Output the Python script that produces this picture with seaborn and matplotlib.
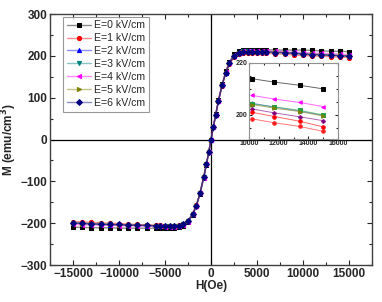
import matplotlib
matplotlib.use('Agg')
import matplotlib.pyplot as plt
import numpy as np
import pandas as pd
import seaborn as sns
from matplotlib.ticker import MultipleLocator

# campo aplicado (Oe), ramo principal
H = [-15000, -14000, -13000, -12000, -11000, -10000, -9000, -8000, -7000, -6000,
     -5500, -5000, -4500, -4000, -3500, -3000, -2500, -2000, -1600, -1200,
     -800, -500, -250, 0, 250, 500, 800, 1200, 1600, 2000,
     2500, 3000, 3500, 4000, 4500, 5000, 5500, 6000, 7000, 8000,
     9000, 10000, 11000, 12000, 13000, 14000, 15000]

M_E0 = [-210, -210, -211, -211, -211, -212, -212, -212, -212, -212,
        -212, -212, -212, -211, -210, -206, -198, -180, -160, -130,
        -92, -60, -31, 0, 31, 60, 94, 132, 163, 186,
        204, 212, 215, 215, 215, 215, 215, 215, 214, 214,
        214, 214, 213, 212, 211, 211, 210]
M_E1 = [-196, -197, -198, -199, -200, -201, -202, -203, -204, -205,
        -205, -206, -206, -206, -205, -202, -194, -177, -157, -127,
        -90, -58, -30, 0, 30, 58, 91, 129, 158, 180,
        197, 205, 207, 207, 207, 207, 206, 206, 205, 204,
        202, 201, 200, 199, 198, 197, 196]
M_E2 = [-200, -201, -202, -203, -204, -204, -205, -205, -206, -206,
        -206, -207, -207, -207, -206, -203, -195, -178, -158, -128,
        -90, -58, -30, 0, 30, 58, 92, 130, 160, 182,
        200, 208, 211, 211, 211, 210, 210, 210, 209, 208,
        206, 205, 204, 203, 202, 201, 200]
M_E3 = [-200, -201, -202, -203, -203, -204, -205, -205, -206, -206,
        -206, -207, -207, -207, -206, -203, -195, -178, -158, -128,
        -90, -58, -30, 0, 30, 58, 92, 130, 160, 182,
        200, 208, 211, 211, 211, 210, 210, 210, 209, 208,
        207, 205, 204, 203, 202, 201, 200]
M_E4 = [-203, -204, -204, -205, -205, -206, -206, -207, -207, -207,
        -207, -208, -208, -208, -207, -204, -196, -179, -159, -129,
        -91, -59, -30, 0, 30, 59, 93, 131, 161, 183,
        202, 210, 212, 212, 212, 212, 211, 211, 211, 210,
        209, 208, 207, 206, 205, 204, 203]
M_E5 = [-200, -201, -202, -202, -203, -204, -204, -205, -205, -206,
        -206, -206, -207, -207, -206, -203, -195, -178, -158, -128,
        -90, -58, -30, 0, 30, 58, 92, 130, 160, 182,
        200, 208, 210, 210, 210, 210, 210, 209, 209, 208,
        206, 205, 204, 203, 202, 201, 200]
M_E6 = [-199, -200, -201, -202, -203, -203, -204, -205, -205, -206,
        -206, -206, -207, -207, -206, -203, -195, -178, -158, -128,
        -90, -58, -30, 0, 30, 58, 92, 130, 160, 182,
        200, 207, 210, 210, 210, 210, 209, 209, 208, 207,
        206, 204, 203, 202, 201, 200, 199]

ROTULOS = ['E=0 kV/cm', 'E=1 kV/cm', 'E=2 kV/cm', 'E=3 kV/cm',
           'E=4 kV/cm', 'E=5 kV/cm', 'E=6 kV/cm']
SERIES = [M_E0, M_E1, M_E2, M_E3, M_E4, M_E5, M_E6]
CORES = ['#000000', '#ff0000', '#0000ff', '#008080', '#ff00ff', '#808000', '#000080']
MARCADORES = ['s', 'o', '^', 'v', '<', '>', 'D']

# detalhe (inset)
H_ZOOM = [10200, 11700, 13400, 15000]
Z_PRETO = [213.9, 212.6, 211.4, 210.0]
Z_MAGENTA = [207.5, 206.1, 204.8, 203.2]
Z_AZUL = [204.5, 203.0, 201.5, 199.8]
Z_VERDE = [204.3, 203.1, 201.8, 200.0]
Z_OLIVA = [204.0, 202.6, 201.3, 199.6]
Z_ROXO = [202.3, 200.8, 199.3, 197.8]
Z_VERMELHO = [201.0, 199.4, 197.6, 195.4]
Z_VERMELHO2 = [198.5, 197.0, 195.6, 193.7]
ZOOM_SERIES = [Z_PRETO, Z_MAGENTA, Z_AZUL, Z_VERDE, Z_OLIVA, Z_ROXO, Z_VERMELHO, Z_VERMELHO2]
ZOOM_CORES = ['#000000', '#ff00ff', '#3060ff', '#20a040', '#808000', '#800080', '#ff0000', '#ff2020']
ZOOM_MARCADORES = ['s', '<', '^', 's', '>', 'P', 'o', 'o']


def ajustar_ticks(ax, tamanho, comprimento):
    ax.tick_params(which='both', direction='in', top=True, right=True,
                   labelsize=tamanho, width=0.8, pad=2)
    ax.tick_params(which='major', length=comprimento)
    ax.tick_params(which='minor', length=comprimento * 0.6)
    for rotulo in ax.get_xticklabels() + ax.get_yticklabels():
        rotulo.set_fontweight('bold')


def main():
    sns.set_style('ticks')
    plt.rcParams['font.family'] = ['Liberation Sans', 'DejaVu Sans']

    fig = plt.figure(figsize=(3.82, 3.02), dpi=100)
    ax = fig.add_axes([0.131, 0.1225, 0.843, 0.831])

    ax.axhline(0, color='black', lw=0.9, zorder=1)
    ax.axvline(0, color='black', lw=0.9, zorder=1)

    for valores, cor, marcador, rotulo in zip(SERIES, CORES, MARCADORES, ROTULOS):
        df = pd.DataFrame({'H': H, 'M': valores})
        rgb = matplotlib.colors.to_rgb(cor)
        sns.lineplot(data=df, x='H', y='M', ax=ax, color=rgb + (0.45,),
                     marker=marcador, markersize=3, markerfacecolor=cor,
                     markeredgecolor=cor, lw=1.0, label=rotulo, zorder=3)

    ax.set_xlim(-17500, 17500)
    ax.set_ylim(-300, 300)
    ax.xaxis.set_major_locator(MultipleLocator(5000))
    ax.xaxis.set_minor_locator(MultipleLocator(2500))
    ax.yaxis.set_major_locator(MultipleLocator(100))
    ax.yaxis.set_minor_locator(MultipleLocator(50))
    ajustar_ticks(ax, 8.5, 3.5)
    for spine in ax.spines.values():
        spine.set_color('#404040')
        spine.set_linewidth(1.0)

    ax.set_xlabel('H(Oe)', fontsize=8.5, fontweight='bold', labelpad=0)
    ax.set_ylabel('M (emu/cm$^\\mathbf{3}$)', fontsize=8.5, fontweight='bold', labelpad=1)

    leg = ax.legend(loc='upper left', bbox_to_anchor=(0.04, 0.99), fontsize=7.6,
                    frameon=True, fancybox=False, edgecolor='#808080',
                    handlelength=2.3, handletextpad=0.3, labelspacing=0.28,
                    borderpad=0.35, borderaxespad=0)
    leg.get_frame().set_linewidth(0.8)

    inset = fig.add_axes([0.652, 0.540, 0.233, 0.252])
    for valores, cor, marcador in zip(ZOOM_SERIES, ZOOM_CORES, ZOOM_MARCADORES):
        df = pd.DataFrame({'H': H_ZOOM, 'M': valores})
        rgb = matplotlib.colors.to_rgb(cor)
        sns.lineplot(data=df, x='H', y='M', ax=inset, color=rgb + (0.6,),
                     marker=marcador, markersize=2.5, markerfacecolor=cor,
                     markeredgecolor=cor, lw=0.7)
    inset.set_xlim(10000, 16000)
    inset.set_ylim(190.8, 220)
    inset.xaxis.set_major_locator(MultipleLocator(2000))
    inset.xaxis.set_minor_locator(MultipleLocator(1000))
    inset.yaxis.set_major_locator(MultipleLocator(20))
    inset.yaxis.set_minor_locator(MultipleLocator(5))
    inset.set_xlabel('')
    inset.set_ylabel('')
    ajustar_ticks(inset, 5, 2)
    inset.tick_params(pad=1)
    for spine in inset.spines.values():
        spine.set_color('#909090')
        spine.set_linewidth(0.8)

    fig.savefig('out.png', dpi=100)
    plt.close(fig)


if __name__ == '__main__':
    main()
